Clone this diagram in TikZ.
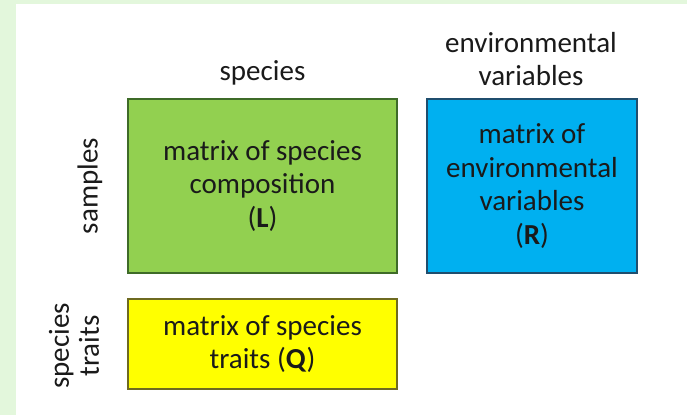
\documentclass[tikz,border=0pt]{standalone}
\usepackage{fontspec}
\setmainfont{Carlito}
\definecolor{bgreen}{HTML}{E3F7DC}
\definecolor{fgreen}{HTML}{92D050}
\definecolor{dgreen}{HTML}{3E6B28}
\definecolor{fblue}{HTML}{00B0F0}
\definecolor{dblue}{HTML}{1F4E6E}
\definecolor{fyellow}{HTML}{FFFF00}
\definecolor{dyellow}{HTML}{6E6A20}
\definecolor{txt}{HTML}{1A1A1A}
\begin{document}
\begin{tikzpicture}[x=1pt,y=-1pt,
  mbox/.style={rectangle, line width=1.3pt, inner sep=0pt, align=center, text=txt,
     font=\fontsize{29}{33.5}\selectfont},
  lbl/.style={align=center, inner sep=0pt, text=txt, font=\fontsize{29}{33}\selectfont}]
\useasboundingbox (0,0) rectangle (687,415);
\fill[bgreen] (0,0) rectangle (687,415);
\fill[white] (16,4) rectangle (687,415);
\node[mbox, fill=fgreen, draw=dgreen, minimum width=269pt, minimum height=174pt] (L) at (262.5,186)
  {matrix of species\\composition\\(\textbf{L})};
\node[mbox, fill=fblue, draw=dblue, minimum width=210pt, minimum height=174pt] (R) at (532,186)
  {matrix of\\environmental\\variables\\(\textbf{R})};
\node[mbox, fill=fyellow, draw=dyellow, minimum width=269pt, minimum height=90pt] (Q) at (262.5,344)
  {matrix of species\\traits (\textbf{Q})};
\node[lbl] (sp) at (262.5,73) {species};
\node[lbl] (env) at (531,59) {environmental\\variables};
\node[lbl, rotate=90] (sa) at (90,186) {samples};
\node[lbl, rotate=90, font=\fontsize{29}{30}\selectfont] (st) at (74,346) {species\\traits};
\end{tikzpicture}
\end{document}
